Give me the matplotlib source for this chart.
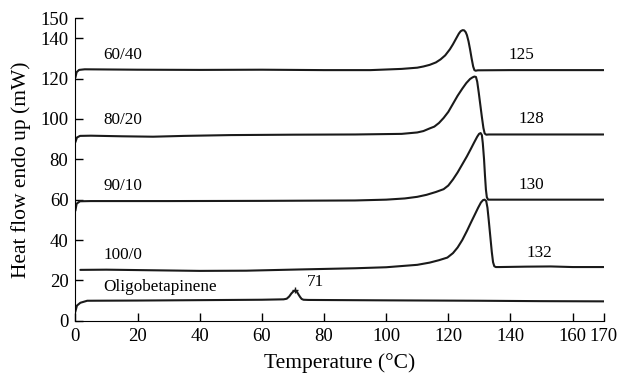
import matplotlib
matplotlib.use("Agg")
import matplotlib.pyplot as plt
import numpy as np

plt.rcParams['font.family'] = ['Liberation Serif', 'DejaVu Serif']

# DSC traces (temperature in C, heat flow in mW)
x_6040 = [0, 0.4, 1.2, 3, 20, 40, 60, 80, 95, 105, 110, 112, 114, 116, 117.5, 119, 120.5, 121.5, 122.5,
          123.4, 124, 124.6, 125.1, 125.6, 126, 126.5, 127, 127.5, 128, 128.4, 128.8, 129.5, 140, 155, 170]
y_6040 = [120.5, 123.2, 124.3, 124.6, 124.4, 124.3, 124.4, 124.2, 124.2, 124.8, 125.4, 126, 126.8, 128,
          129.5, 131.5, 134.5, 137, 139.8, 142.3, 143.5, 144, 143.9, 143, 141.5, 138.5, 134.5, 130, 126,
          124.2, 123.9, 124.1, 124.2, 124.2, 124.2]

x_8020 = [0, 0.5, 1.5, 5, 15, 25, 35, 50, 70, 90, 105, 110, 112, 114, 115.5, 117, 118.5, 120, 121.5, 123,
          124.5, 125.8, 127, 127.8, 128.4, 128.9, 129.3, 129.8, 130.3, 130.8, 131.3, 131.7, 132.2, 133,
          150, 170]
y_8020 = [88.5, 90.8, 91.6, 91.7, 91.4, 91.2, 91.6, 92, 92.2, 92.3, 92.6, 93.3, 94, 95.3, 96.2, 98, 100.5,
          103.5, 107.5, 111.5, 115, 117.8, 119.8, 120.6, 121, 120.8, 118.5, 113, 107, 101, 95.5, 92.8,
          92.2, 92.3, 92.3, 92.3]

x_9010 = [0, 0.4, 1.5, 5, 30, 60, 90, 100, 106, 110, 113, 116, 118.5, 120, 121.5, 123, 124.5, 126, 127.2,
          128.3, 129.3, 129.9, 130.4, 130.8, 131.1, 131.5, 131.8, 132.1, 132.4, 132.8, 134, 155, 170]
y_9010 = [54.5, 58, 59.2, 59.3, 59.3, 59.4, 59.6, 60, 60.6, 61.4, 62.4, 63.8, 65.2, 67, 70, 73.5, 77.5,
          81.5, 85, 88.3, 91.2, 92.6, 93, 92, 88, 80, 72, 65, 61.2, 60, 60, 60, 60]

x_1000 = [1.6, 10, 25, 40, 55, 72, 90, 100, 110, 114, 117, 119.7, 121.5, 123, 124.5, 126, 127.2, 128.5,
          129.6, 130.5, 131.2, 131.7, 132.2, 132.6, 133, 133.5, 134, 134.4, 134.8, 135.3, 136.5, 145,
          153, 160, 170]
y_1000 = [25.2, 25.3, 25, 24.7, 24.8, 25.4, 26, 26.5, 27.7, 28.8, 30, 31.3, 33.5, 36.3, 40, 44.5, 48.4,
          52.5, 56, 58.6, 59.8, 60, 59.3, 56, 50, 42, 34, 29, 27, 26.6, 26.6, 26.8, 26.9, 26.6, 26.6]

x_oligo = [0, 0.5, 1.6, 3.8, 20, 40, 60, 67, 68, 68.8, 69.5, 70.2, 70.8, 71.3, 71.8, 72.3, 72.8, 73.4,
           75, 100, 130, 150, 170]
y_oligo = [4.6, 7.5, 8.9, 9.9, 10, 10.2, 10.4, 10.6, 10.9, 12, 13.5, 14.6, 15, 14.3, 13, 11.8, 10.8, 10.4,
           10.3, 10.1, 9.9, 9.7, 9.6]

names = ["60/40", "80/20", "90/10", "100/0", "Oligobetapinene"]
name_x = [9, 9, 9, 9, 9]
name_y = [131.5, 99.5, 67, 32.5, 16.5]
peak_labels = ["125", "128", "130", "132", "71"]
peak_lab_x = [139.5, 142.5, 142.5, 145.3, 74.5]
peak_lab_y = [131.5, 100, 67.5, 33.5, 19]

fig = plt.figure(figsize=(6.23, 3.76), dpi=100)
ax = fig.add_axes([0.121, 0.147, 0.848, 0.805])

curves = [(x_6040, y_6040), (x_8020, y_8020), (x_9010, y_9010), (x_1000, y_1000)]
for xs, ys in curves:
    ax.plot(xs, ys, color="#1a1a1a", lw=1.5, solid_capstyle="round")

# oligomer trace, with the small tick mark at its melting peak
ipk = int(np.argmax(y_oligo))
ax.plot(x_oligo, y_oligo, color="#1a1a1a", lw=1.5, marker="+", markevery=[ipk],
        markersize=4, markeredgewidth=1)

for i, nm in enumerate(names):
    ax.text(name_x[i], name_y[i], nm, fontsize=12.3, va="center", ha="left")
for i, pl in enumerate(peak_labels):
    ax.text(peak_lab_x[i], peak_lab_y[i], pl, fontsize=12.3, va="center", ha="left")

ax.set_xlim(0, 170)
ax.set_ylim(0, 150)
ax.set_xticks([0, 20, 40, 60, 80, 100, 120, 140, 160, 170])
ax.set_yticks([0, 20, 40, 60, 80, 100, 120, 140, 150])
ax.spines["top"].set_visible(False)
ax.spines["right"].set_visible(False)
ax.tick_params(direction="in", length=6, width=1, labelsize=13.5, pad=5)
ax.set_xlabel("Temperature (°C)", fontsize=15.5, labelpad=6)
ax.set_ylabel("Heat flow endo up (mW)", fontsize=15.5, labelpad=7)

fig.savefig("out.png", dpi=100)
